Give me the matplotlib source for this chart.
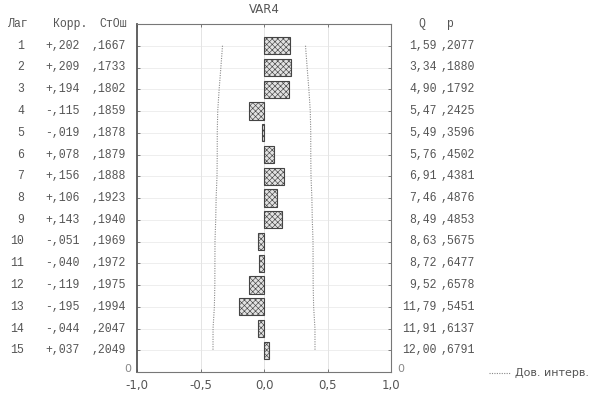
import matplotlib
matplotlib.use('Agg')
import matplotlib.pyplot as plt
import numpy as np
from matplotlib.transforms import blended_transform_factory

lags = list(range(1, 16))
corr = [0.202, 0.209, 0.194, -0.115, -0.019, 0.078, 0.156, 0.106, 0.143,
        -0.051, -0.040, -0.119, -0.195, -0.044, 0.037]
se = [0.1667, 0.1733, 0.1802, 0.1859, 0.1878, 0.1879, 0.1888, 0.1923, 0.1940,
      0.1969, 0.1972, 0.1975, 0.1994, 0.2047, 0.2049]
qstat = [1.59, 3.34, 4.90, 5.47, 5.49, 5.76, 6.91, 7.46, 8.49,
         8.63, 8.72, 9.52, 11.79, 11.91, 12.00]
pval = [0.2077, 0.1880, 0.1792, 0.2425, 0.3596, 0.4502, 0.4381, 0.4876, 0.4853,
        0.5675, 0.6477, 0.6578, 0.5451, 0.6137, 0.6791]
xticks = [-1.0, -0.5, 0.0, 0.5, 1.0]

plt.rcParams['hatch.color'] = '#9a9a9a'
plt.rcParams['hatch.linewidth'] = 0.45

W, H = 591, 394
fig = plt.figure(figsize=(W / 100, H / 100), dpi=100)
ax = fig.add_axes([137 / W, 1 - 372 / H, (391 - 137) / W, (372 - 24) / H])

txt = '#555555'
mono = 'Liberation Mono'

# bars
ax.barh(lags, corr, height=0.8, left=0, color='#e2e2e2', hatch='xxxxxx',
        edgecolor='#444444', linewidth=0.8, zorder=3)

# confidence limits
ci = 1.96 * np.array(se)
ax.plot(ci, lags, ls=(0, (1, 1.2)), color='#888888', lw=0.8, zorder=2)
ax.plot(-ci, lags, ls=(0, (1, 1.2)), color='#888888', lw=0.8, zorder=2)

ax.set_xlim(-1, 1)
ax.set_ylim(16, 0)
ax.set_xticks(xticks)
ax.set_xticklabels([f'{v:.1f}'.replace('.', ',') for v in xticks],
                   fontsize=8.5, color=txt)
ax.set_yticks(lags)
ax.set_yticklabels([])
ax.tick_params(axis='both', direction='in', length=2, width=0.6, colors='#666666',
               top=True, right=True, pad=3)
ax.tick_params(axis='x', pad=5)
for lab in ax.get_xticklabels():
    lab.set_color(txt)

for y in lags:
    ax.axhline(y, color='#eeeeee', lw=0.7, zorder=0)
for x in [-0.5, 0.0, 0.5]:
    ax.axvline(x, color='#e4e4e4', lw=0.7, zorder=0)

for s in ['top', 'right', 'bottom']:
    ax.spines[s].set_color('#777777')
    ax.spines[s].set_linewidth(0.8)
ax.spines['left'].set_color('#555555')
ax.spines['left'].set_linewidth(1.3)

ax.set_title('VAR4', fontsize=8.5, color=txt, pad=8)

# table texts on both sides
tr = blended_transform_factory(fig.transFigure, ax.transData)
fx = lambda px: px / W
fs = 8.3
ax.text(fx(8), 0, 'Лаг', transform=tr, family=mono, fontsize=fs, color=txt,
        ha='left', va='center')
ax.text(fx(53), 0, 'Корр.', transform=tr, family=mono, fontsize=fs, color=txt,
        ha='left', va='center')
ax.text(fx(99), 0, 'СтОш', transform=tr, family=mono, fontsize=fs, color=txt,
        ha='left', va='center')
ax.text(fx(425), 0, 'Q', transform=tr, family=mono, fontsize=fs, color=txt,
        ha='right', va='center')
ax.text(fx(446), 0, 'p', transform=tr, family=mono, fontsize=fs, color=txt,
        ha='left', va='center')
# the bottom "0" on both sides
ax.text(fx(131), 15.85, '0', transform=tr, fontsize=8, color='#888888',
        ha='right', va='center')
ax.text(fx(397), 15.85, '0', transform=tr, fontsize=8, color='#888888',
        ha='left', va='center')

for lag, c, s, q, p in zip(lags, corr, se, qstat, pval):
    sign = '+' if c >= 0 else '-'
    cs = sign + f'{abs(c):.3f}'[1:].replace('.', ',')
    ss = f'{s:.4f}'[1:].replace('.', ',')
    qs = f'{q:.2f}'.replace('.', ',')
    ps = f'{p:.4f}'[1:].replace('.', ',')
    ax.text(fx(24), lag, str(lag), transform=tr, family=mono, fontsize=fs,
            color=txt, ha='right', va='center')
    ax.text(fx(45), lag, cs, transform=tr, family=mono, fontsize=fs,
            color=txt, ha='left', va='center')
    ax.text(fx(92), lag, ss, transform=tr, family=mono, fontsize=fs,
            color=txt, ha='left', va='center')
    ax.text(fx(437), lag, qs, transform=tr, family=mono, fontsize=fs,
            color=txt, ha='right', va='center')
    ax.text(fx(441), lag, ps, transform=tr, family=mono, fontsize=fs,
            color=txt, ha='left', va='center')

# legend
fig.lines.append(plt.Line2D([fx(489), fx(511)], [1 - 373 / H] * 2,
                            transform=fig.transFigure, color='#888888',
                            ls=(0, (1, 1.2)), lw=0.8))
fig.text(fx(515), 1 - 373 / H, 'Дов. интерв.', fontsize=8, color=txt,
         ha='left', va='center')

fig.savefig('out.png', dpi=100)
